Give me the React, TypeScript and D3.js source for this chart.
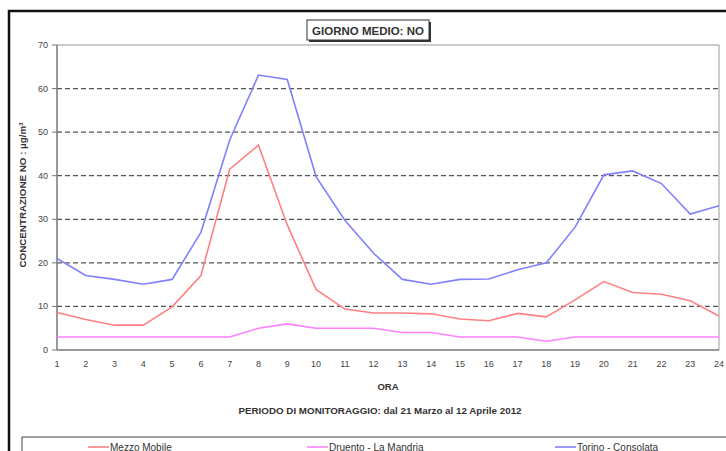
import React from "react";
import * as d3 from "d3";

const hours = d3.range(1, 25);
const mezzoMobile = [8.6, 7.0, 5.7, 5.7, 9.9, 17.1, 41.5, 47.0, 28.7, 13.9, 9.4, 8.5, 8.5, 8.3, 7.1, 6.7, 8.4, 7.6, 11.5, 15.7, 13.2, 12.8, 11.3, 7.8];
const druento = [3, 3, 3, 3, 3, 3, 3, 5, 6, 5, 5, 5, 4, 4, 3, 3, 3, 2, 3, 3, 3, 3, 3, 3];
const torino = [21, 17.1, 16.2, 15.1, 16.2, 27, 48.2, 63.1, 62.1, 39.8, 29.8, 22.2, 16.2, 15.1, 16.2, 16.3, 18.4, 20, 28.2, 40.2, 41.1, 38.2, 31.2, 33.1];
const yTicks = [0, 10, 20, 30, 40, 50, 60, 70];
const seriesNames = ["Mezzo Mobile", "Druento - La Mandria", "Torino - Consolata"];

const W = 726, H = 451;
const L = 57, R = 719, T = 45, B = 350;
const font = "'Liberation Sans', Arial, sans-serif";

export default function App() {
  const x = d3.scaleLinear().domain([1, 24]).range([L, R]);
  const y = d3.scaleLinear().domain([0, 70]).range([B, T]);
  const line = d3.line<number>().x((_, i) => x(hours[i])).y((d) => y(d));
  const series = [
    { name: seriesNames[0], data: mezzoMobile, color: "#ff8080", lx: 88 },
    { name: seriesNames[1], data: druento, color: "#ff80ff", lx: 307 },
    { name: seriesNames[2], data: torino, color: "#8080ff", lx: 555 },
  ];
  return (
    <svg width={W} height={H} style={{ position: "absolute", left: 0, top: 0, background: "#fff" }} fontFamily={font}>
      <rect x={0} y={0} width={W} height={H} fill="#fff" />
      {/* outer frame */}
      <rect x={9} y={11} width={W + 20} height={H + 20} fill="none" stroke="#111" strokeWidth={2.5} />
      {/* title box */}
      <rect x={309} y={22} width={122} height={20} fill="#333" />
      <rect x={307} y={20} width={122} height={20} fill="#fff" stroke="#333" strokeWidth={1} />
      <text x={368} y={34.5} textAnchor="middle" fontSize={11.5} fontWeight="bold" fill="#333">GIORNO MEDIO: NO</text>
      {/* grid */}
      {yTicks.filter((t) => t > 0 && t < 70).map((t) => (
        <line key={t} x1={L} x2={R} y1={y(t)} y2={y(t)} stroke="#555" strokeWidth={1.2} strokeDasharray="5,3" />
      ))}
      {/* plot frame */}
      <line x1={L} x2={R} y1={T} y2={T} stroke="#999" strokeWidth={1} />
      <line x1={R} x2={R} y1={T} y2={B} stroke="#999" strokeWidth={1} />
      <line x1={L} x2={L} y1={T} y2={B} stroke="#777" strokeWidth={1.5} />
      <line x1={L} x2={R} y1={B} y2={B} stroke="#777" strokeWidth={1.5} />
      {/* y ticks */}
      {yTicks.map((t) => (
        <g key={t}>
          <line x1={L - 5} x2={L} y1={y(t)} y2={y(t)} stroke="#777" strokeWidth={1} />
          <text x={48} y={y(t) + 3} textAnchor="end" fontSize={9} fill="#444">{t}</text>
        </g>
      ))}
      {/* x ticks */}
      {hours.map((h) => (
        <text key={h} x={x(h)} y={367} textAnchor="middle" fontSize={9} fill="#444">{h}</text>
      ))}
      {/* series */}
      {series.map((s) => (
        <path key={s.name} d={line(s.data) || ""} fill="none" stroke={s.color} strokeWidth={1.6} />
      ))}
      {/* axis titles */}
      <text x={388} y={390} textAnchor="middle" fontSize={9.5} fontWeight="bold" fill="#333">ORA</text>
      <text x={380} y={414} textAnchor="middle" fontSize={9.8} fontWeight="bold" fill="#333">PERIODO DI MONITORAGGIO: dal 21 Marzo al 12 Aprile 2012</text>
      <text transform="translate(26,195) rotate(-90)" textAnchor="middle" fontSize={9.8} fontWeight="bold" fill="#333">
        CONCENTRAZIONE NO :  µg/m<tspan fontSize={6} dy={-3}>3</tspan>
      </text>
      {/* legend */}
      <rect x={22} y={437} width={W} height={30} fill="#fff" stroke="#444" strokeWidth={1} />
      {series.map((s) => (
        <g key={s.name}>
          <line x1={s.lx} x2={s.lx + 21} y1={447} y2={447} stroke={s.color} strokeWidth={1.6} />
          <text x={s.lx + 22} y={450.5} fontSize={10} fill="#333">{s.name}</text>
        </g>
      ))}
    </svg>
  );
}
